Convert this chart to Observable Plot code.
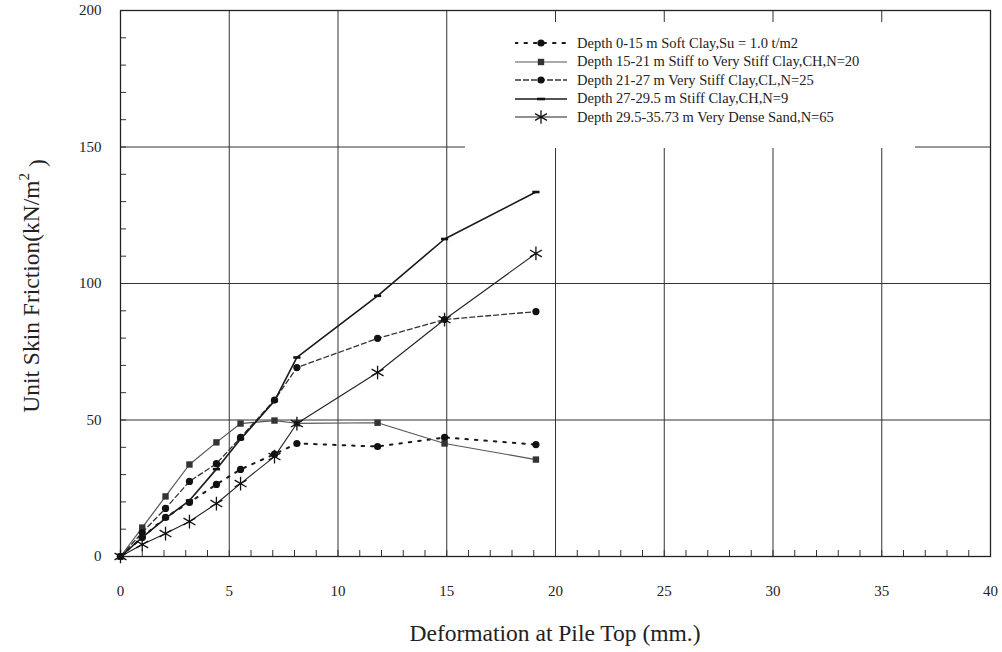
<!DOCTYPE html>
<html>
<head>
<meta charset="utf-8">
<script src="https://cdn.jsdelivr.net/npm/d3@7"></script>
<script src="https://cdn.jsdelivr.net/npm/@observablehq/plot@0.6"></script>
<style>
  body { margin: 0; background: #fff; }
  #wrap { position: relative; width: 1002px; height: 652px; font-family: "Liberation Serif", "Times New Roman", serif; color: #222; }
  #legend { position: absolute; left: 465px; top: 22px; width: 450px; height: 126px; background: #fff; }
  .row { position: absolute; left: 50px; height: 16px; display: flex; align-items: center; font-size: 14.5px; white-space: nowrap; }
  .row svg { margin-right: 10px; }
</style>
</head>
<body>
<div id="wrap"></div>
<script>
// Pile top deformation (mm) at each load step
const deformation = [0, 1.0, 2.07, 3.17, 4.41, 5.52, 7.08, 8.11, 11.82, 14.9, 19.1];

// Unit skin friction (kN/m2) per soil layer
const softClay     = [0, 7.0, 14.3, 19.8, 26.4, 31.9, 37.5, 41.4, 40.3, 43.6, 41.0];
const stiffClayCH  = [0, 10.6, 22.0, 33.7, 41.8, 48.7, 49.8, 48.8, 49.0, 41.4, 35.5];
const veryStiffCL  = [0, 8.8, 17.6, 27.5, 34.0, 43.6, 57.3, 69.2, 79.9, 86.8, 89.7];
const stiffClayCH9 = [0, 7.0, 14.0, 20.5, 32.0, 43.0, 57.0, 72.9, 95.5, 116.3, 133.5];
const denseSand    = [0, 4.4, 8.4, 12.8, 19.4, 26.7, 36.6, 48.7, 67.4, 86.8, 111.0];

const seriesNames = [
  "Depth 0-15 m Soft Clay,Su = 1.0 t/m2",
  "Depth 15-21 m Stiff to Very Stiff Clay,CH,N=20",
  "Depth 21-27 m Very Stiff Clay,CL,N=25",
  "Depth 27-29.5 m Stiff Clay,CH,N=9",
  "Depth 29.5-35.73 m Very Dense Sand,N=65"
];

const xTicks = [0, 5, 10, 15, 20, 25, 30, 35, 40];
const yTicks = [0, 50, 100, 150, 200];

// short horizontal dash used as a point symbol
const dashSymbol = {
  draw(context, size) {
    const r = Math.sqrt(size / Math.PI);
    context.moveTo(-r, 0);
    context.lineTo(r, 0);
  }
};

const toRows = (vals) => deformation.map((x, i) => ({x, y: vals[i]}));

const styles = [
  {vals: softClay, stroke: "#1a1a1a", width: 2.0, dash: "2.5,7", cap: "round", symbol: "circle", r: 3.6, fill: "#111"},
  {vals: stiffClayCH, stroke: "#555", width: 1.2, dash: null, cap: "butt", symbol: "square", r: 3.6, fill: "#333"},
  {vals: veryStiffCL, stroke: "#333", width: 1.3, dash: "6,2", cap: "butt", symbol: "circle", r: 3.6, fill: "#111"},
  {vals: stiffClayCH9, stroke: "#1a1a1a", width: 1.6, dash: null, cap: "butt", symbol: dashSymbol, r: 3.6, strokeMark: true},
  {vals: denseSand, stroke: "#222", width: 1.1, dash: null, cap: "butt", symbol: "asterisk", r: 6.5, strokeMark: true}
];

const seriesMarks = styles.flatMap((s) => {
  const rows = toRows(s.vals);
  const line = Plot.line(rows, {x: "x", y: "y", stroke: s.stroke, strokeWidth: s.width, strokeDasharray: s.dash, strokeLinecap: s.cap});
  const dot = s.strokeMark
    ? Plot.dot(rows, {x: "x", y: "y", symbol: () => s.symbol, r: s.r, stroke: "#111", strokeWidth: s.symbol === dashSymbol ? 2.6 : 1.3, fill: "none"})
    : Plot.dot(rows, {x: "x", y: "y", symbol: () => s.symbol, r: s.r, fill: s.fill, stroke: "none"});
  return [line, dot];
});

const minorX = d3.range(0, 41, 1);
const minorY = d3.range(0, 201, 10);

const chart = Plot.plot({
  width: 1002,
  height: 652,
  marginLeft: 120,
  marginRight: 12,
  marginTop: 10,
  marginBottom: 96,
  style: {fontFamily: "'Liberation Serif', 'Times New Roman', serif", fontSize: "15px", color: "#222", background: "#fff"},
  x: {domain: [0, 40], ticks: xTicks, tickSize: 0, tickPadding: 29, label: null, tickFormat: (d) => String(d)},
  y: {domain: [0, 200], ticks: yTicks, tickSize: 0, tickPadding: 19, label: null, tickFormat: (d) => String(d)},
  symbol: {type: "identity"},
  marks: [
    Plot.ruleX(xTicks.slice(1, -1), {stroke: "#333", strokeWidth: 1}),
    Plot.ruleY(yTicks.slice(1, -1), {stroke: "#333", strokeWidth: 1}),
    Plot.ruleX(minorX, {x: (d) => d, y1: 0, y2: 2.2, stroke: "#333"}),
    Plot.ruleY(minorY, {y: (d) => d, x1: 0, x2: 0.28, stroke: "#333"}),
    Plot.frame({stroke: "#222", strokeWidth: 1.3}),
    ...seriesMarks
  ]
});

const wrap = document.getElementById("wrap");
wrap.appendChild(chart);

// axis titles
const svg = d3.select(chart);
svg.append("text")
  .attr("x", 555).attr("y", 641)
  .attr("text-anchor", "middle")
  .style("font-size", "23.5px").attr("fill", "#222")
  .text("Deformation at Pile Top (mm.)");

const yTitle = svg.append("text")
  .attr("transform", "translate(39,286) rotate(-90)")
  .attr("text-anchor", "middle")
  .style("font-size", "23.5px").attr("fill", "#222");
yTitle.append("tspan").text("Unit Skin Friction(kN/m");
yTitle.append("tspan").attr("dy", "-0.7em").style("font-size", "15px").text("2");
yTitle.append("tspan").attr("dy", "0.7em").text(" )");

// legend box
const legend = document.createElement("div");
legend.id = "legend";
wrap.appendChild(legend);
const symPath = (sym, r) => d3.symbol(sym === "circle" ? d3.symbolCircle : sym === "square" ? d3.symbolSquare : d3.symbolAsterisk, r * r * Math.PI)();
styles.forEach((s, i) => {
  const row = document.createElement("div");
  row.className = "row";
  row.style.top = (13 + i * 18.6) + "px";
  let marker;
  if (s.symbol === dashSymbol) {
    marker = `<line x1="22" x2="30" y1="8" y2="8" stroke="#111" stroke-width="2.6"/>`;
  } else if (s.strokeMark) {
    marker = `<path transform="translate(26,8)" d="${symPath(s.symbol, s.r)}" fill="none" stroke="#111" stroke-width="1.3"/>`;
  } else {
    marker = `<path transform="translate(26,8)" d="${symPath(s.symbol, s.r)}" fill="${s.fill}"/>`;
  }
  row.innerHTML = `<svg width="52" height="16"><line x1="0" x2="52" y1="8" y2="8" stroke="${s.stroke}" stroke-width="${s.width}" ${s.dash ? `stroke-dasharray="${s.dash}"` : ""} stroke-linecap="${s.cap}"/>${marker}</svg><span>${seriesNames[i]}</span>`;
  legend.appendChild(row);
});
</script>
</body>
</html>
